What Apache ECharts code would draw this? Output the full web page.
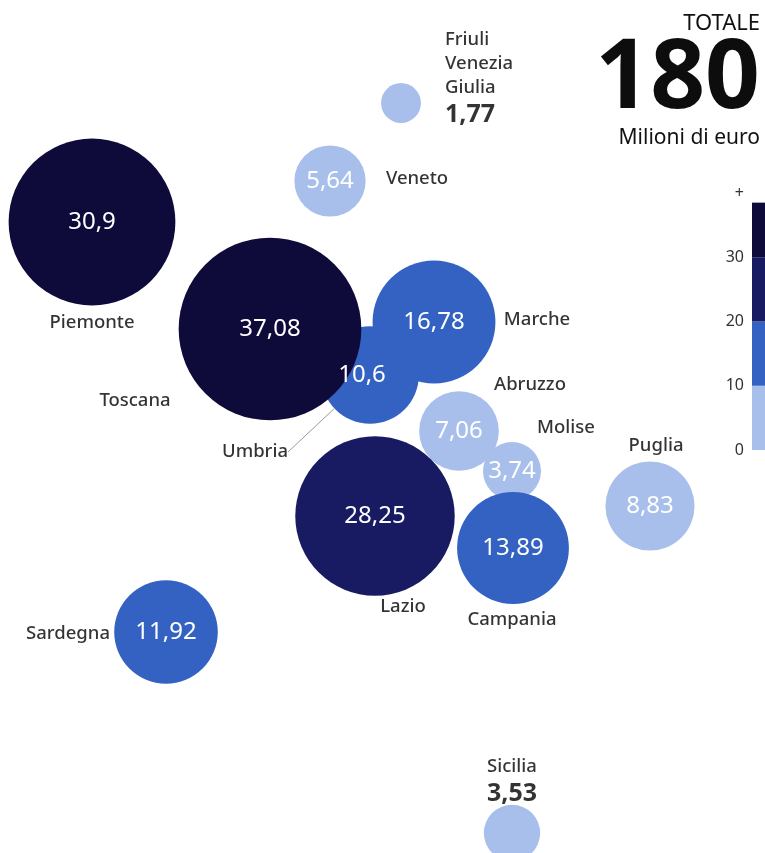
<!DOCTYPE html>
<html>
<head>
<meta charset="utf-8">
<title>Totale 180 milioni di euro</title>
<script src="https://cdn.jsdelivr.net/npm/echarts@6/dist/echarts.min.js"></script>
<style>
  html, body { margin: 0; padding: 0; background: #fff; }
  #chart { width: 765px; height: 853px; }
</style>
</head>
<body>
<div id="chart"></div>
<script>
// dati: regione, milioni di euro, posizione sulla "mappa" (unita' del riquadro)
var regions = ['Piemonte', 'Veneto', 'Friuli Venezia Giulia', 'Marche', 'Umbria', 'Toscana',
  'Abruzzo', 'Molise', 'Puglia', 'Lazio', 'Campania', 'Sardegna', 'Sicilia'];
var values = [30.9, 5.64, 1.77, 16.78, 10.6, 37.08, 7.06, 3.74, 8.83, 28.25, 13.89, 11.92, 3.53];
var mapX = [92, 330, 401, 434, 370, 270, 459, 512, 650, 375, 513, 166, 512];
var mapY = [222, 181, 103, 322, 375, 329, 431, 471, 506, 516, 548, 632, 833];

// scala colori (legenda)
var legendTicks = [0, 10, 20, 30, 40];
var legendSteps = [10, 10, 10, 8.5];
var palette = ['#a9bfeb', '#3462c3', '#181b62', '#0e0b3a'];

// posizione delle etichette con il nome (rispetto al centro della bolla)
var nameOffset = {
  'Piemonte': [0, 101], 'Veneto': [87, -2], 'Friuli Venezia Giulia': [44, -24],
  'Marche': [103, -2], 'Umbria': [-115, 77], 'Toscana': [-135, 72],
  'Abruzzo': [71, -46], 'Molise': [54, -43], 'Puglia': [6, -60],
  'Lazio': [28, 91], 'Campania': [-1, 72], 'Sardegna': [-98, 2], 'Sicilia': [0, -51]
};
var outsideValue = ['Friuli Venezia Giulia', 'Sicilia'];

var FONT = '"Noto Sans", "Open Sans", sans-serif';
function fmt(v) { return String(v).replace('.', ','); }
function bubble(v) { return 30 * Math.sqrt(v); }

var total = 0;
values.forEach(function (v) { total += v; });

var bubbles = regions.map(function (r, i) {
  return {
    name: r,
    value: [mapX[i], mapY[i], values[i]],
    label: { show: outsideValue.indexOf(r) < 0, offset: r === 'Umbria' ? [-8, 0] : [0, 0] }
  };
});

var names = regions.map(function (r, i) {
  var item = { name: r, value: [mapX[i], mapY[i], values[i]] };
  if (r === 'Umbria') {
    item.labelLine = { show: true, lineStyle: { color: '#9a9a9a', width: 1 } };
  }
  if (outsideValue.indexOf(r) >= 0) {
    item.label = {
      align: r === 'Sicilia' ? 'center' : 'left',
      formatter: r.split(' ').join('\n') + '\n{v|' + fmt(values[i]) + '}'
    };
  }
  return item;
});

var option = {
  backgroundColor: '#fff',
  animation: false,
  textStyle: { fontFamily: FONT },
  title: {
    right: 0,
    top: 3,
    text: '{a|TOTALE}\n{b|' + Math.round(total) + '}\n{c|Milioni di euro}',
    textStyle: {
      align: 'right',
      fontWeight: 'normal',
      rich: {
        a: { fontSize: 22, color: '#111', lineHeight: 32, fontWeight: 'normal', fontFamily: FONT, align: 'right' },
        b: { fontSize: 96, fontWeight: 'bold', color: '#0d0d0d', lineHeight: 82, fontFamily: FONT, align: 'right' },
        c: { fontSize: 21, color: '#111', lineHeight: 32, fontWeight: 'normal', fontFamily: FONT, align: 'right' }
      }
    }
  },
  visualMap: {
    show: false,
    type: 'piecewise',
    seriesIndex: 0,
    dimension: 2,
    pieces: [
      { min: 0, max: 10, color: palette[0] },
      { min: 10, max: 20, color: palette[1] },
      { min: 20, max: 30, color: palette[2] },
      { min: 30, color: palette[3] }
    ]
  },
  grid: [
    { left: 0, right: 0, top: 0, bottom: 0 },
    { left: 752, right: 0, top: 193, bottom: 403 }
  ],
  xAxis: [
    { gridIndex: 0, type: 'value', min: 0, max: 765, show: false },
    { gridIndex: 1, type: 'category', data: [''], show: false }
  ],
  yAxis: [
    { gridIndex: 0, type: 'value', min: 0, max: 853, inverse: true, show: false },
    {
      gridIndex: 1, type: 'value', min: 0, max: 40, interval: 10,
      axisLine: { show: false }, axisTick: { show: false }, splitLine: { show: false },
      axisLabel: {
        margin: 8, color: '#333', fontSize: 16, fontFamily: FONT,
        formatter: function (v) { return v === legendTicks[legendTicks.length - 1] ? '+' : v; }
      }
    }
  ],
  series: [
    {
      // bolle
      type: 'scatter',
      xAxisIndex: 0, yAxisIndex: 0,
      symbolSize: function (d) { return bubble(d[2]); },
      itemStyle: { opacity: 1 },
      label: {
        position: 'inside',
        color: '#fff',
        fontSize: 24,
        fontFamily: FONT,
        formatter: function (p) { return fmt(p.value[2]); }
      },
      data: bubbles,
      z: 2
    },
    {
      // nomi delle regioni
      type: 'scatter',
      xAxisIndex: 0, yAxisIndex: 0,
      symbolSize: function (d) { return bubble(d[2]); },
      itemStyle: { color: 'rgba(0,0,0,0)' },
      silent: true,
      label: {
        show: true,
        position: 'inside',
        color: '#000',
        fontSize: 18.5,
        fontWeight: 500,
        lineHeight: 24,
        fontFamily: FONT,
        formatter: '{b}',
        rich: { v: { fontSize: 25, fontWeight: 'bold', color: '#000', lineHeight: 30, fontFamily: FONT } }
      },
      labelLayout: function (p) {
        var o = nameOffset[regions[p.dataIndex]];
        return { dx: o[0], dy: o[1] };
      },
      data: names,
      z: 3
    }
  ].concat(legendSteps.map(function (s, i) {
    return {
      type: 'bar',
      xAxisIndex: 1, yAxisIndex: 1,
      stack: 'legenda',
      barWidth: '100%',
      itemStyle: { color: palette[i] },
      silent: true,
      data: [s]
    };
  }))
};

var myChart = echarts.init(document.getElementById('chart'));
myChart.setOption(option);

window.onresize = function () {
  myChart.resize();
};
</script>
</body>
</html>
